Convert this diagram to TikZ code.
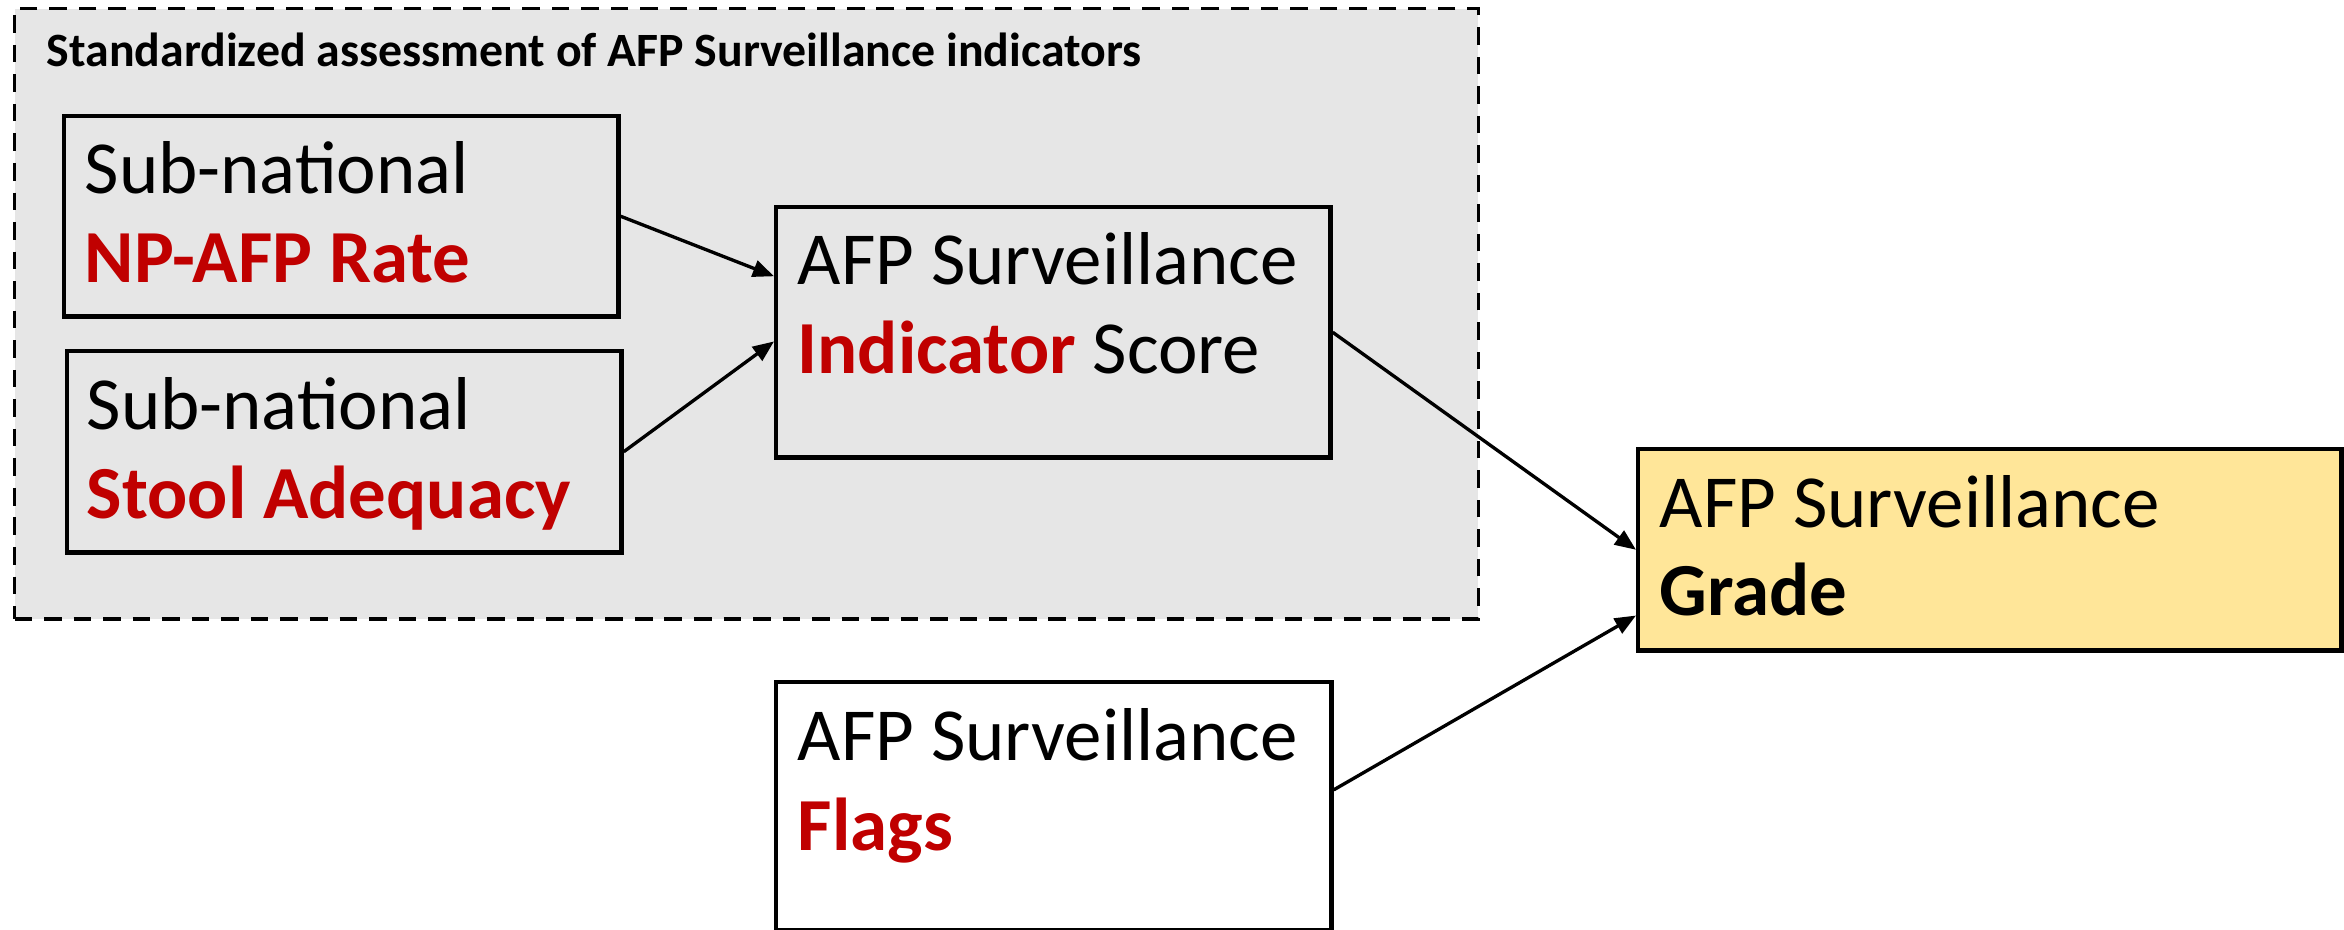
\documentclass[tikz,border=0pt]{standalone}
\usepackage{fontspec}
\setmainfont{Carlito}
\usetikzlibrary{arrows.meta,calc}
\definecolor{accred}{HTML}{C00000}
\definecolor{groupgray}{HTML}{E6E6E6}
\definecolor{gradefill}{HTML}{FFE699}
\tikzset{
  pix/.style={x=0.01cm,y=-0.01cm},
  boxnode/.style={draw=black,line width=1.25pt,rectangle,inner sep=0pt,anchor=north west},
  boxtext/.style={anchor=base west,inner sep=0pt,font=\fontsize{21.3}{26}\selectfont,align=left},
  grouptitle/.style={anchor=base west,inner sep=0pt,font=\fontsize{13.6}{16}\selectfont\bfseries},
  conn/.style={line width=0.95pt,-{Triangle[length=6pt,width=4.8pt]}},
  redtext/.style={text=accred}
}
\newcommand{\rb}[1]{\textcolor{accred}{\textbf{#1}}}
\begin{document}
\begin{tikzpicture}[pix]
\useasboundingbox (0,0) rectangle (2344,930);
% group
\node[draw=black,line width=0.9pt,dash pattern=on 5pt off 3.4pt,fill=groupgray,rectangle,inner sep=0pt,anchor=north west,minimum width=14.63cm,minimum height=6.10cm] (grp) at (13,7) {};
\node[grouptitle] (grptitle) at (46,66) {Standardized assessment of AFP Surveillance indicators};
% boxes
\node[boxnode,minimum width=5.54cm,minimum height=2.00cm] (b1) at (62,114) {};
\node[boxnode,minimum width=5.54cm,minimum height=2.01cm] (b2) at (65,349) {};
\node[boxnode,minimum width=5.54cm,minimum height=2.50cm] (b3) at (774,205) {};
\node[boxnode,fill=gradefill,minimum width=7.03cm,minimum height=2.01cm] (b4) at (1636,447) {};
\node[boxnode,fill=white,minimum width=5.55cm,minimum height=2.48cm] (b5) at (774,680) {};
% texts
\node[boxtext] (t1a) at (84,193) {Sub-national};
\node[boxtext] (t1b) at (84,282) {\rb{NP-AFP Rate}};
\node[boxtext] (t2a) at (86,429) {Sub-national};
\node[boxtext] (t2b) at (86,518) {\rb{Stool Adequacy}};
\node[boxtext] (t3a) at (797,284) {AFP Surveillance};
\node[boxtext] (t3b) at (797,373) {\rb{Indicator} Score};
\node[boxtext] (t4a) at (1659,527) {AFP Surveillance};
\node[boxtext] (t4b) at (1659,615) {\textbf{Grade}};
\node[boxtext] (t5a) at (797,760) {AFP Surveillance};
\node[boxtext] (t5b) at (797,850) {\rb{Flags}};
% connectors
\draw[conn] (b1.east) -- ($(b3.north west)!0.28!(b3.south west)$);
\draw[conn] (b2.east) -- ($(b3.north west)!0.536!(b3.south west)$);
\draw[conn] (b3.east) -- (b4.west);
\draw[conn] ($(b5.north east)!0.435!(b5.south east)$) -- ($(b4.north west)!0.82!(b4.south west)$);
\end{tikzpicture}
\end{document}
